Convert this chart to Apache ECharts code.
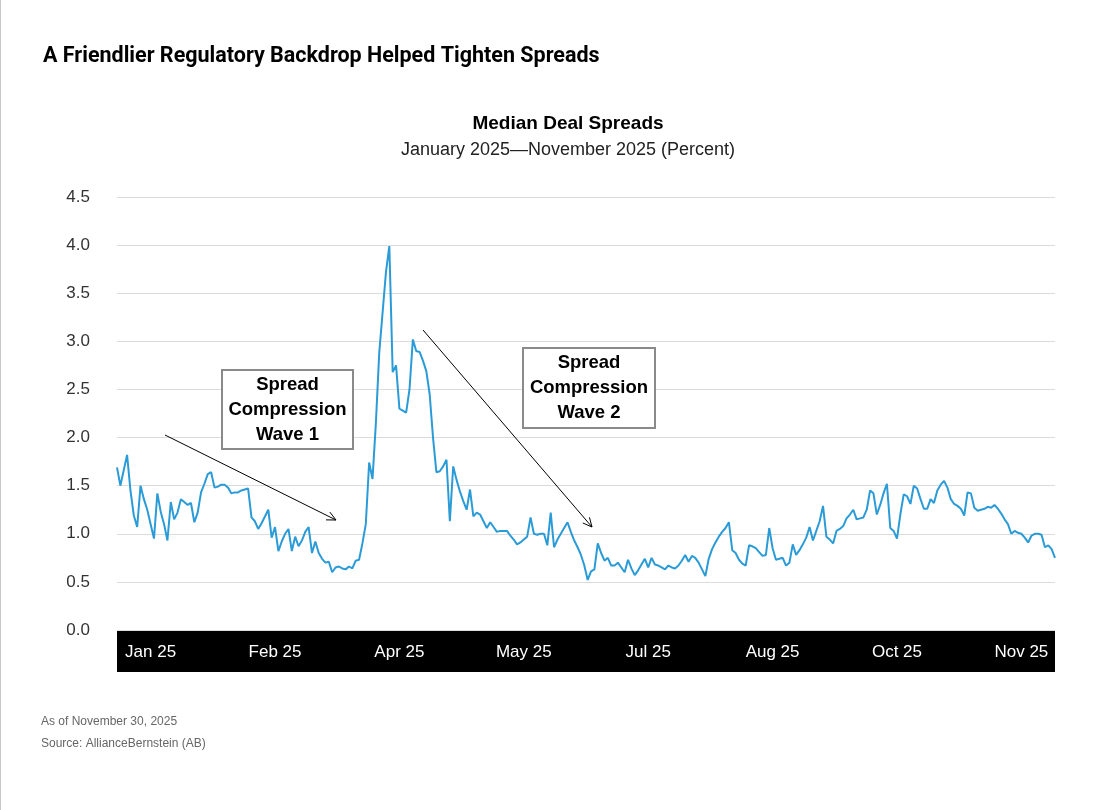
<!DOCTYPE html>
<html>
<head>
<meta charset="utf-8">
<script src="https://cdn.jsdelivr.net/npm/echarts@6/dist/echarts.min.js"></script>
<style>
  html, body { margin: 0; padding: 0; background: #fff; }
  #chart { width: 1114px; height: 810px; }
</style>
</head>
<body>
<div id="chart"></div>
<script>
// median deal spreads, percent, Jan 2025 - Nov 2025
var spreads = [
  1.69,1.50,1.66,1.82,1.45,1.19,1.07,1.50,1.36,1.25,
  1.10,0.95,1.42,1.23,1.10,0.93,1.33,1.15,1.22,1.36,
  1.33,1.30,1.32,1.12,1.22,1.43,1.52,1.62,1.64,1.48,
  1.49,1.51,1.51,1.48,1.42,1.43,1.43,1.45,1.46,1.47,
  1.17,1.13,1.05,1.11,1.18,1.25,0.96,1.07,0.82,0.92,
  1.00,1.05,0.82,0.97,0.87,0.93,1.02,1.07,0.80,0.92,
  0.80,0.74,0.70,0.71,0.60,0.65,0.66,0.64,0.63,0.66,
  0.64,0.72,0.73,0.90,1.10,1.74,1.57,2.15,2.88,3.30,
  3.72,3.99,2.68,2.75,2.30,2.28,2.26,2.50,3.02,2.90,
  2.89,2.80,2.69,2.45,2.00,1.64,1.65,1.70,1.77,1.13,
  1.70,1.56,1.44,1.34,1.25,1.46,1.18,1.22,1.20,1.13,
  1.06,1.12,1.07,1.02,1.03,1.03,1.03,0.98,0.94,0.89,
  0.91,0.94,0.97,1.17,1.00,0.99,1.00,1.00,0.88,1.22,
  0.86,0.94,1.00,1.06,1.12,1.02,0.93,0.86,0.78,0.67,
  0.52,0.61,0.63,0.90,0.80,0.72,0.75,0.67,0.67,0.70,
  0.65,0.60,0.73,0.64,0.57,0.62,0.68,0.74,0.65,0.75,
  0.68,0.67,0.65,0.63,0.67,0.65,0.64,0.67,0.72,0.78,
  0.71,0.77,0.75,0.70,0.63,0.56,0.74,0.84,0.91,0.97,
  1.02,1.06,1.12,0.83,0.80,0.73,0.69,0.67,0.88,0.87,
  0.85,0.81,0.77,0.78,1.06,0.85,0.73,0.74,0.75,0.67,
  0.70,0.89,0.78,0.83,0.89,0.96,1.07,0.93,1.03,1.13,
  1.29,0.97,0.94,0.90,1.03,1.05,1.08,1.16,1.20,1.25,
  1.15,1.16,1.17,1.25,1.45,1.42,1.20,1.30,1.42,1.52,
  1.06,1.03,0.95,1.20,1.41,1.39,1.31,1.50,1.47,1.36,
  1.26,1.26,1.36,1.32,1.45,1.51,1.55,1.48,1.36,1.31,
  1.29,1.26,1.19,1.43,1.42,1.27,1.24,1.25,1.26,1.28,
  1.27,1.30,1.26,1.21,1.15,1.10,1.00,1.03,1.01,1.00,
  0.96,0.91,0.98,1.00,1.00,0.99,0.86,0.88,0.84,0.75
];
var monthLabels = ['Jan 25', 'Feb 25', 'Apr 25', 'May 25', 'Jul 25', 'Aug 25', 'Oct 25', 'Nov 25'];
var firstLabel = 10, labelStep = 37;

var days = spreads.map(function (v, i) { return String(i); });

var font = 'Liberation Sans, Arial, sans-serif';

function arrow(x1, y1, x2, y2) {
  var a = Math.atan2(y2 - y1, x2 - x1), len = 10, w = 0.45;
  return [
    { type: 'line', z: 100, shape: { x1: x1, y1: y1, x2: x2, y2: y2 }, style: { stroke: '#000', lineWidth: 1 } },
    { type: 'polyline', z: 100, shape: { points: [
        [x2 - len * Math.cos(a - w), y2 - len * Math.sin(a - w)],
        [x2, y2],
        [x2 - len * Math.cos(a + w), y2 - len * Math.sin(a + w)]
      ] }, style: { stroke: '#000', lineWidth: 1, fill: null } }
  ];
}

function noteBox(x, y, w, h, txt) {
  return [
    { type: 'rect', z: 100, shape: { x: x, y: y, width: w, height: h }, style: { fill: '#fff', stroke: '#8a8a8a', lineWidth: 2 } },
    { type: 'text', z: 101, x: x + w / 2, y: y + h / 2, style: {
        text: txt, fill: '#000', font: 'bold 18.5px ' + font, lineHeight: 25,
        textAlign: 'center', textVerticalAlign: 'middle' } }
  ];
}

var myChart = echarts.init(document.getElementById('chart'));
var option = {
  backgroundColor: '#fff',
  animation: false,
  title: [
    { text: 'A Friendlier Regulatory Backdrop Helped Tighten Spreads', left: 38, top: 41,
      textStyle: { fontFamily: 'Roboto', fontWeight: 'bold', fontSize: 21.5, color: '#000' } },
    { text: 'Median Deal Spreads', left: 563, top: 109, textAlign: 'center',
      textStyle: { fontFamily: font, fontWeight: 'bold', fontSize: 19, color: '#000' } },
    { text: 'January 2025\u2014November 2025 (Percent)', left: 563, top: 136, textAlign: 'center',
      textStyle: { fontFamily: font, fontWeight: 'normal', fontSize: 18, color: '#222' } },
    { text: 'As of November 30, 2025', left: 36, top: 711,
      textStyle: { fontFamily: font, fontWeight: 'normal', fontSize: 12, color: '#666' } },
    { text: 'Source: AllianceBernstein (AB)', left: 36, top: 733,
      textStyle: { fontFamily: font, fontWeight: 'normal', fontSize: 12, color: '#666' } }
  ],
  grid: { left: 117, right: 59, top: 197, bottom: 180 },
  xAxis: {
    type: 'category',
    data: days,
    boundaryGap: false,
    z: 120,
    axisLine: { show: false },
    axisTick: { show: false },
    splitLine: { show: false },
    axisLabel: {
      color: '#fff', fontFamily: font, fontSize: 17, margin: 22, verticalAlign: 'middle',
      interval: function (i) { return i >= firstLabel && (i - firstLabel) % labelStep === 0; },
      formatter: function (v, i) { return monthLabels[(i - firstLabel) / labelStep] || ''; }
    }
  },
  yAxis: {
    type: 'value',
    min: 0, max: 4.5, interval: 0.5,
    axisLine: { show: false },
    axisTick: { show: false },
    splitLine: { lineStyle: { color: '#dcdcdc', width: 1 } },
    axisLabel: {
      color: '#333', fontFamily: font, fontSize: 17, margin: 27,
      formatter: function (v) { return v.toFixed(1); }
    }
  },
  series: [{
    name: 'Median Deal Spreads',
    type: 'line',
    data: spreads,
    symbol: 'none',
    smooth: false,
    lineStyle: { color: '#2b9bd7', width: 2 }
  }],
  graphic: [
    { type: 'line', shape: { x1: 0.5, y1: 0, x2: 0.5, y2: 810 }, style: { stroke: '#c8c8c8', lineWidth: 1 } },
    // black band carrying the x axis labels
    { type: 'rect', z: 50, shape: { x: 117, y: 631, width: 938, height: 41 }, style: { fill: '#000' } }
  ]
    .concat(arrow(165, 435, 336, 520))
    .concat(arrow(423, 330, 592, 527))
    .concat(noteBox(222, 370, 131, 79, 'Spread\nCompression\nWave 1'))
    .concat(noteBox(523, 348, 132, 80, 'Spread\nCompression\nWave 2'))
};
myChart.setOption(option);
</script>
</body>
</html>
